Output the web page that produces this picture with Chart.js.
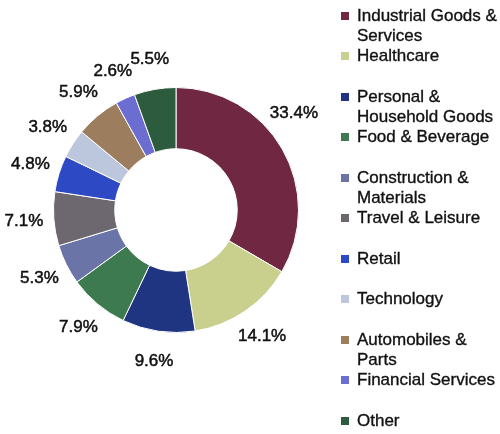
<!DOCTYPE html>
<html>
<head>
<meta charset="utf-8">
<script src="https://cdn.jsdelivr.net/npm/chart.js@4.4.1/dist/chart.umd.min.js"></script>
<style>
  html, body { margin: 0; padding: 0; background: #fff; }
  #wrap { position: relative; width: 500px; height: 434px; overflow: hidden; }
  #chart { position: absolute; left: 0; top: 0; }
  #legend {
    position: absolute; left: 0; top: 0; width: 500px; height: 434px;
    font-family: "Liberation Sans", Arial, sans-serif; font-size: 17px; color: #111;
    -webkit-text-stroke: 0.35px #111;
  }
  .item { position: absolute; left: 341px; width: 159px; line-height: 20.5px; }
  .sw { position: absolute; left: 0; top: 6px; width: 8px; height: 8px; }
  .txt { position: absolute; left: 16px; width: 143px; }
</style>
</head>
<body>
<div id="wrap">
  <canvas id="chart" width="330" height="434"></canvas>
  <div id="legend"></div>
</div>
<script>
// Sector weights, share of total (%)
const sectors = [
  'Industrial Goods & Services',
  'Healthcare',
  'Personal & Household Goods',
  'Food & Beverage',
  'Construction & Materials',
  'Travel & Leisure',
  'Retail',
  'Technology',
  'Automobiles & Parts',
  'Financial Services',
  'Other'
];
const shares = [33.4, 14.1, 9.6, 7.9, 5.3, 7.1, 4.8, 3.8, 5.9, 2.6, 5.5];
const sectorColors = [
  '#6f2742', '#c9cf8c', '#1f3582', '#3d7a50', '#6b74a6', '#6d676f',
  '#2d49c4', '#bcc6dd', '#9c7d5e', '#6b6dd0', '#2c5b3d'
];

// Percentage labels placed just outside the ring, kept inside the canvas
const pctLabels = {
  id: 'pctLabels',
  afterDatasetsDraw(chart, args, opts) {
    const ctx = chart.ctx;
    const meta = chart.getDatasetMeta(0);
    const values = chart.data.datasets[0].data;
    ctx.save();
    ctx.font = opts.font;
    ctx.fillStyle = opts.color;
    ctx.strokeStyle = opts.color;
    ctx.lineWidth = 0.5;
    ctx.textAlign = 'center';
    ctx.textBaseline = 'middle';
    meta.data.forEach((arc, i) => {
      const p = arc.getProps(['x', 'y', 'startAngle', 'endAngle', 'outerRadius'], true);
      const text = values[i].toFixed(1) + '%';
      const w = ctx.measureText(text).width;
      const dist = p.outerRadius + opts.offset;
      let a = (p.startAngle + p.endAngle) / 2;
      const maxX = chart.width - opts.margin - w / 2;
      if (p.x + Math.cos(a) * dist > maxX) {
        const c = Math.max(-1, Math.min(1, (maxX - p.x) / dist));
        a = (Math.sin(a) > 0 ? 1 : -1) * Math.acos(c);
      }
      const tx = p.x + Math.cos(a) * dist;
      const ty = p.y + Math.sin(a) * dist;
      ctx.fillText(text, tx, ty);
      ctx.strokeText(text, tx, ty);
    });
    ctx.restore();
  }
};

new Chart(document.getElementById('chart'), {
  type: 'doughnut',
  data: {
    labels: sectors,
    datasets: [{
      data: shares,
      backgroundColor: sectorColors,
      borderColor: '#ffffff',
      borderWidth: 1
    }]
  },
  options: {
    responsive: false,
    animation: false,
    devicePixelRatio: 1,
    cutout: '50%',
    layout: { padding: { left: 53, top: 87, right: 31, bottom: 101 } },
    plugins: {
      legend: { display: false },
      tooltip: { enabled: false },
      pctLabels: {
        font: '17px "Liberation Sans", Arial, sans-serif',
        color: '#111111',
        offset: 30,
        margin: 12
      }
    }
  },
  plugins: [pctLabels]
});

// Legend on the right, one row per sector
const legend = document.getElementById('legend');
sectors.forEach((name, i) => {
  const item = document.createElement('div');
  item.className = 'item';
  item.style.top = (5.8 + 40.5 * i) + 'px';
  const sw = document.createElement('div');
  sw.className = 'sw';
  sw.style.background = sectorColors[i];
  const txt = document.createElement('div');
  txt.className = 'txt';
  txt.textContent = name;
  item.appendChild(sw);
  item.appendChild(txt);
  legend.appendChild(item);
});
</script>
</body>
</html>
